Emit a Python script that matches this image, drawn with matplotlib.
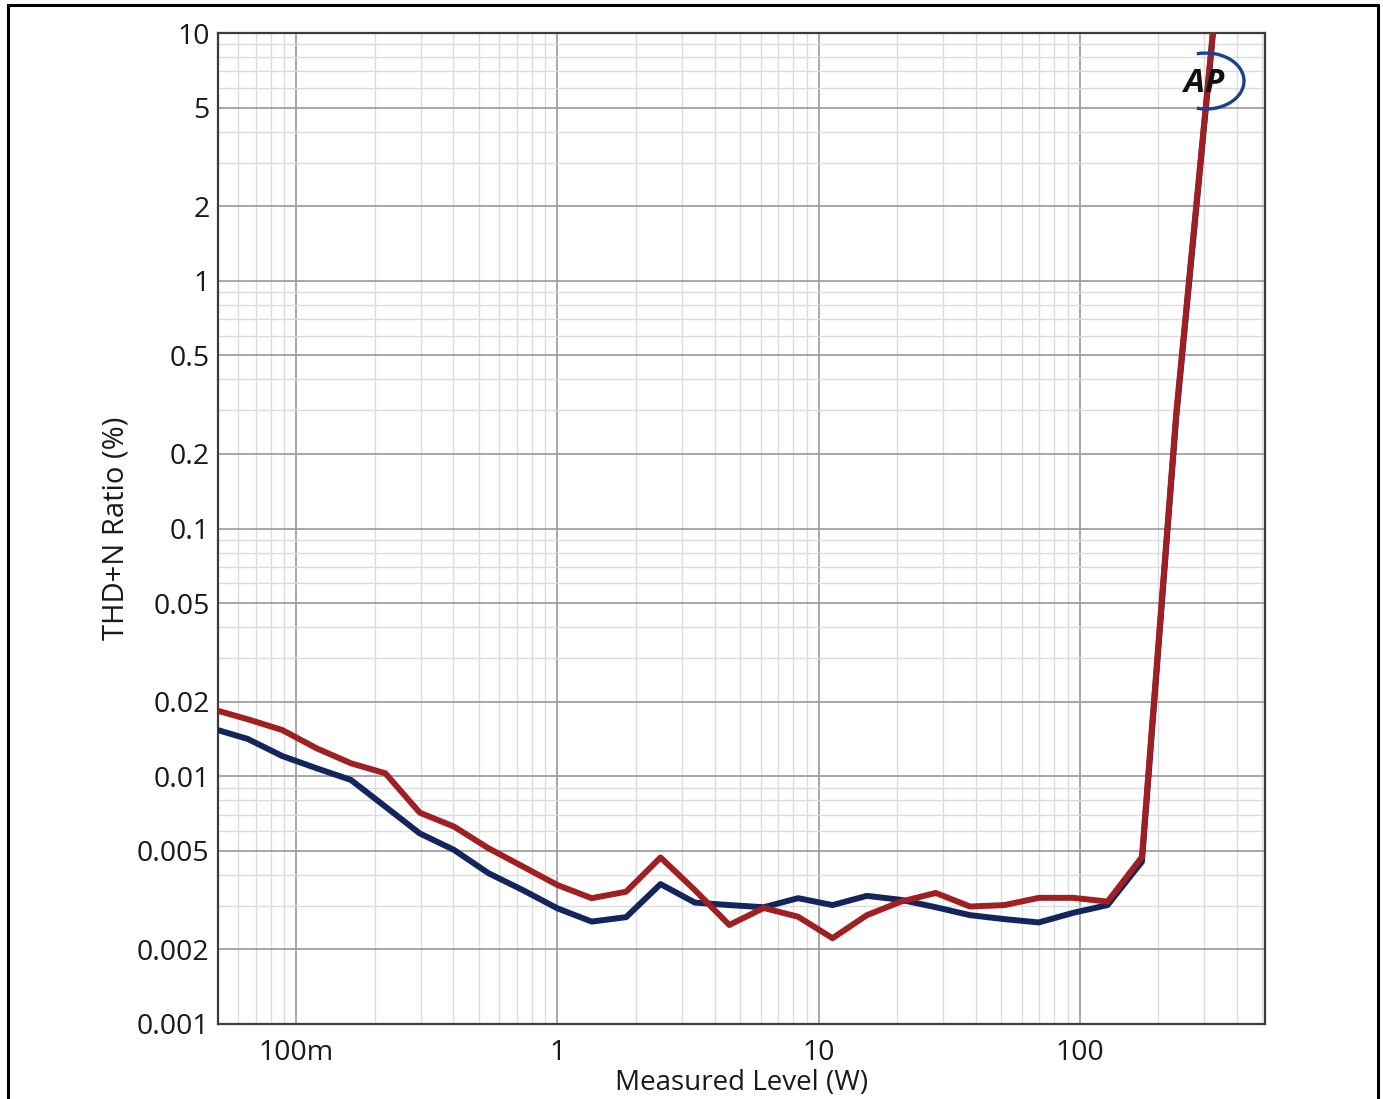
import matplotlib
matplotlib.use("Agg")
import matplotlib.pyplot as plt
from matplotlib.patches import Arc, Rectangle
from matplotlib.ticker import FixedLocator, NullFormatter

plt.rcParams['font.family'] = ['Open Sans', 'DejaVu Sans']

# Measured level (W)
level_w = [0.05, 0.0653, 0.0884, 0.1197, 0.1621, 0.2195, 0.2972, 0.4025, 0.545, 0.738,
           1.0, 1.354, 1.834, 2.483, 3.363, 4.553, 6.166, 8.35, 11.31, 15.31,
           20.7, 28.1, 38.0, 51.5, 69.7, 94.4, 127.8, 173.0, 234.0, 317.0, 430.0]

# THD+N ratio (%) – blue channel
thd_blue = [0.01537, 0.01414, 0.01207, 0.01077, 0.00966, 0.00754, 0.00588, 0.00504, 0.00406, 0.00347,
            0.00293, 0.00259, 0.00270, 0.00367, 0.00309, 0.00302, 0.00296, 0.00322, 0.00302, 0.00329,
            0.00317, 0.00296, 0.00275, 0.00265, 0.00257, 0.00281, 0.00302, 0.00452, 0.280, 7.9, 260.0]

# THD+N ratio (%) – red channel
thd_red = [0.01839, 0.01698, 0.01537, 0.01297, 0.01128, 0.01028, 0.00713, 0.00626, 0.00512, 0.00432,
           0.00364, 0.00322, 0.00342, 0.00470, 0.00347, 0.00251, 0.00294, 0.00271, 0.00222, 0.00275,
           0.00312, 0.00338, 0.00298, 0.00302, 0.00323, 0.00323, 0.00312, 0.00472, 0.290, 8.07, 268.0]

x_ticks = [0.1, 1, 10, 100]
x_tick_labels = ['100m', '1', '10', '100']
y_ticks = [0.001, 0.002, 0.005, 0.01, 0.02, 0.05, 0.1, 0.2, 0.5, 1, 2, 5, 10]
y_tick_labels = ['0.001', '0.002', '0.005', '0.01', '0.02', '0.05', '0.1', '0.2', '0.5', '1', '2', '5', '10']

W, H = 1383, 1099
fig = plt.figure(figsize=(W / 100, H / 100), dpi=100)
fig.patch.set_facecolor('white')

# outer frame
fig.patches.append(Rectangle((8 / W, -0.01), (1378 - 8) / W, (H - 5) / H + 0.01,
                             transform=fig.transFigure, fill=False,
                             edgecolor='black', linewidth=2.2))

ax = fig.add_axes([218 / W, 1 - 1024 / H, (1265 - 218) / W, (1024 - 33) / H])
ax.set_xscale('log')
ax.set_yscale('log')
ax.set_xlim(0.0502, 512)
ax.set_ylim(0.001, 10)

# grids
x_minor = [m * 10.0 ** e for e in range(-2, 3) for m in range(2, 10)]
y_minor = [m * 10.0 ** e for e in range(-3, 1) for m in (3, 4, 6, 7, 8, 9)]
ax.xaxis.set_major_locator(FixedLocator(x_ticks))
ax.xaxis.set_minor_locator(FixedLocator(x_minor))
ax.yaxis.set_major_locator(FixedLocator(y_ticks))
ax.yaxis.set_minor_locator(FixedLocator(y_minor))
ax.set_xticklabels(x_tick_labels)
ax.set_yticklabels(y_tick_labels)
ax.xaxis.set_minor_formatter(NullFormatter())
ax.yaxis.set_minor_formatter(NullFormatter())
ax.grid(True, which='major', color='#a0a0a0', linewidth=1.3)
ax.grid(True, which='minor', color='#dcdcdc', linewidth=1.0)
ax.set_axisbelow(True)

ax.tick_params(which='both', length=0)
ax.tick_params(axis='both', which='major', labelsize=20.5, labelcolor='#1a1a1a')
ax.tick_params(axis='y', pad=6)
ax.tick_params(axis='x', pad=11)

for s in ax.spines.values():
    s.set_color('#3c3c3c')
    s.set_linewidth(1.6)

ax.plot(level_w, thd_blue, color='#14255e', linewidth=4.3, solid_joinstyle='round', zorder=3)
ax.plot(level_w, thd_red, color='#a01f23', linewidth=4.3, solid_joinstyle='round', zorder=4)

ax.set_xlabel('Measured Level (W)', fontsize=20, color='#1a1a1a', labelpad=1)
ax.set_ylabel('THD+N Ratio (%)', fontsize=21, color='#1a1a1a', labelpad=5)

# AP logo
fig.text(1204 / W, 1 - 83 / H, 'AP', fontsize=24, fontweight='bold', fontstyle='italic',
         color='#111111', ha='center', va='center', zorder=10)
fig.patches.append(Arc((1206 / W, 1 - 81 / H), 76 / W, 56 / H, theta1=-105, theta2=105,
                       transform=fig.transFigure, color='#1c3f8f', linewidth=2.4, zorder=10))

fig.savefig('out.png', dpi=100)
